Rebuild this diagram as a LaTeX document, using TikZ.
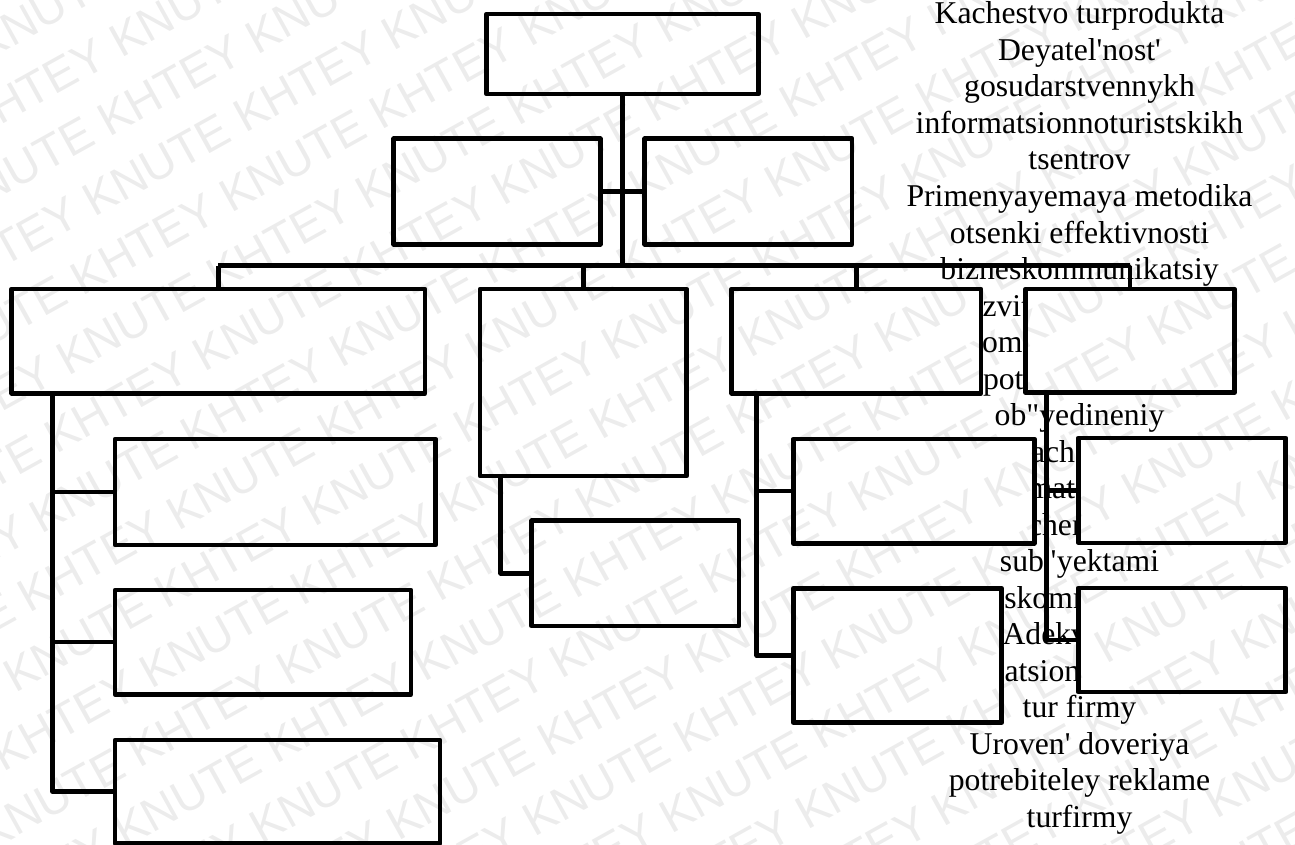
\documentclass[tikz,border=0pt]{standalone}
\usepackage{fontspec}
\newfontfamily\labelfont{Liberation Serif}
\newfontfamily\markfont{Liberation Sans}
\begin{document}
\begin{tikzpicture}[x=1pt,y=-1pt,
  line join=round,
  box/.style={draw=black, line width=4.5pt, fill=white, inner sep=0pt, outer sep=0pt, rectangle},
  link/.style={draw=black, line width=4.5pt},
  lab/.style={font=\labelfont\fontsize{31.7}{36.5}\selectfont, inner sep=0pt, outer sep=0pt, anchor=base},
  frag/.style={lab, anchor=base west},
  wm/.style={font=\markfont\fontsize{47}{47}\selectfont, text=black, text opacity=0.075, inner sep=0pt, anchor=base west, rotate=29}]

\useasboundingbox (0,0) rectangle (1295,845);
\fill[white] (0,0) rectangle (1295,845);

% text column on the right, set underneath the boxes
\node[lab] (t1)  at (1079.5,24.0)  {Kachestvo turprodukta};
\node[lab] (t2)  at (1079.5,60.5)  {Deyatel'nost'};
\node[lab] (t3)  at (1079.5,97.0)  {gosudarstvennykh};
\node[lab] (t4)  at (1079.5,133.5) {informatsionnoturistskikh};
\node[lab] (t5)  at (1079.5,170.0) {tsentrov};
\node[lab] (t6)  at (1079.5,206.5) {Primenyayemaya metodika};
\node[lab] (t7)  at (1079.5,243.0) {otsenki effektivnosti};
\node[lab] (t8)  at (1079.5,279.5) {bizneskommunikatsiy};
\node[frag] (t9)  at (982.5,316.0)  {zvitiya};
\node[frag] (t10) at (982.0,352.5)  {ommu};
\node[frag] (t11) at (983.0,389.0)  {potr};
\node[lab] (t12) at (1079.5,425.5) {ob"yedineniy};
\node[frag] (t13) at (1031.0,462.0) {achestvo};
\node[frag] (t14) at (1027.5,498.5) {matsii};
\node[frag] (t15) at (1028.0,535.0) {chenn};
\node[lab] (t16) at (1079.5,571.5) {sub"yektami};
\node[frag] (t17) at (1004.3,608.0) {skomm};
\node[frag] (t18) at (1002.5,644.5) {Adekvatnost'};
\node[frag] (t19) at (1004.5,681.0) {atsionnoy};
\node[lab] (t20) at (1079.5,717.5) {tur firmy};
\node[lab] (t21) at (1079.5,754.0) {Uroven' doveriya};
\node[lab] (t22) at (1079.5,790.5) {potrebiteley reklame};
\node[lab] (t23) at (1079.5,827.0) {turfirmy};

% boxes
\node[box, minimum width=272pt,   minimum height=80pt]    (top) at (622.5,54) {};
\node[box, minimum width=206.6pt, minimum height=105.6pt] (L2)  at (497,191.5) {};
\node[box, minimum width=207.3pt, minimum height=105.6pt] (R2)  at (748.35,191.5) {};
\node[box, minimum width=413.3pt, minimum height=104.3pt] (A)   at (218.35,341.15) {};
\node[box, minimum width=320.7pt, minimum height=106pt]   (A1)  at (275.35,492) {};
\node[box, minimum width=296pt,   minimum height=104.3pt] (A2)  at (263,642.15) {};
\node[box, minimum width=325pt,   minimum height=103.4pt] (A3)  at (277.5,791.7) {};
\node[box, minimum width=206.7pt, minimum height=187pt]   (B)   at (583.35,382.5) {};
\node[box, minimum width=207.3pt, minimum height=105.3pt] (B1)  at (635.35,573.35) {};
\node[box, minimum width=249.3pt, minimum height=104.3pt] (C)   at (856.35,341.15) {};
\node[box, minimum width=241pt,   minimum height=104.3pt] (C1)  at (913.8,491.15) {};
\node[box, minimum width=208.4pt, minimum height=134.4pt] (C2)  at (897.5,655.5) {};
\node[box, minimum width=208.6pt, minimum height=103.7pt] (D)   at (1130,340.85) {};
\node[box, minimum width=207.4pt, minimum height=105pt]   (D1)  at (1182,490.3) {};
\node[box, minimum width=207.4pt, minimum height=104.4pt] (D2)  at (1182,640) {};

% connectors
\coordinate (hub)  at (622.5,265.7);
\coordinate (Aleg) at (52.5,393.3);
\coordinate (Bleg) at (500.7,476);
\coordinate (Cleg) at (756.7,393.3);
\coordinate (Dleg) at (1046.7,392.7);

\path[link] (top.south) -- (hub);
\path[link] (L2.east) -- (R2.west);
\path[link] (A.north |- hub) -- (D.north |- hub);
\path[link] (A.north |- hub) -- (A.north);
\path[link] (B.north |- hub) -- (B.north);
\path[link] (C.north |- hub) -- (C.north);
\path[link] (D.north |- hub) -- (D.north);

\path[link] (Aleg) |- (A3.west);
\path[link] (Aleg |- A1.west) -- (A1.west);
\path[link] (Aleg |- A2.west) -- (A2.west);
\path[link] (Bleg) |- (B1.west);
\path[link] (Cleg) |- (C2.west);
\path[link] (Cleg |- C1.west) -- (C1.west);
\path[link] (Dleg) |- (D2.west);
\path[link] (Dleg |- D1.west) -- (D1.west);

% watermark rows across the sheet
\begin{scope}
\clip (0,0) rectangle (1295,845);
\foreach \k in {-4,...,22} {
  \pgfmathsetmacro\acr{110+63*\k}
  \pgfmathsetmacro\alo{mod(121*\k-161+3420,342)-1130}
  \node[wm] (wm\k) at ({\alo*0.8746+\acr*0.4848},{-\alo*0.4848+\acr*0.8746})
    {KNUTE KHTEY KNUTE KHTEY KNUTE KHTEY KNUTE KHTEY KNUTE KHTEY KNUTE KHTEY KNUTE KHTEY};
}
\end{scope}
\end{tikzpicture}
\end{document}
